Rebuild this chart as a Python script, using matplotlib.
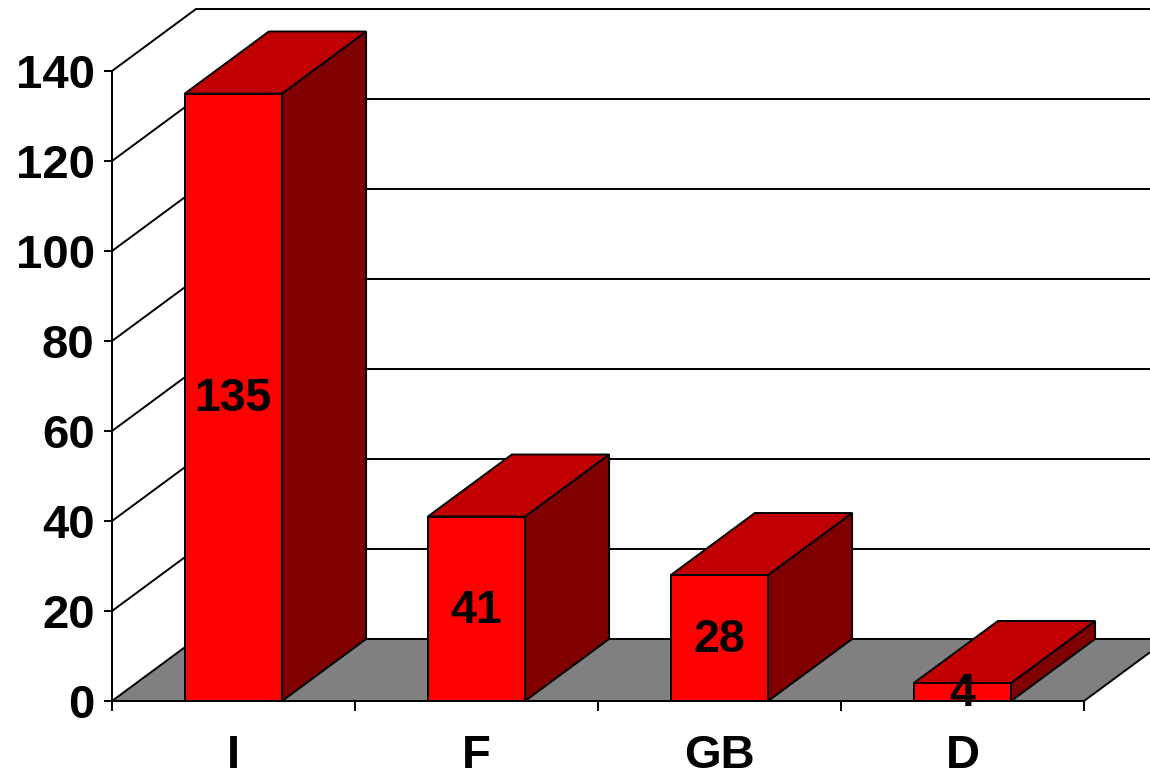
import matplotlib
matplotlib.use("Agg")
import matplotlib.pyplot as plt
from matplotlib.patches import Polygon, Rectangle

plt.rcParams['font.family'] = ['Liberation Sans', 'DejaVu Sans']

categories = ['I', 'F', 'GB', 'D']
values = [135, 41, 28, 4]
y_ticks = [0, 20, 40, 60, 80, 100, 120, 140]

W, H = 1150, 775
LEFT, RIGHT, BOTTOM, TOP = 112, 1084, 701, 71
fig = plt.figure(figsize=(W / 100, H / 100), dpi=100, facecolor='white')
ax = fig.add_axes([LEFT / W, 1 - BOTTOM / H, (RIGHT - LEFT) / W, (BOTTOM - TOP) / H])
ax.set_xlim(0, len(categories))
ax.set_ylim(0, 140)

DX = 84 / ((RIGHT - LEFT) / len(categories))   # depth in category units
DY = 62 / ((BOTTOM - TOP) / 140)               # depth in value units
BAR_W = 0.4
LW = 1.4
EDGE = 'black'

# floor
ax.add_patch(Polygon([(0, 0), (DX, DY), (4 + DX, DY), (4, 0)], closed=True,
                     facecolor='#808080', edgecolor=EDGE, lw=LW, clip_on=False, zorder=1))
# walls and gridlines
for v in y_ticks:
    if v > 0:
        ax.plot([0, DX, 4 + DX], [v, v + DY, v + DY], color=EDGE, lw=LW,
                clip_on=False, zorder=1.5, solid_joinstyle='miter')

# 3-D bars
for i, (name, v) in enumerate(zip(categories, values)):
    x0 = i + 0.5 - BAR_W / 2
    x1 = x0 + BAR_W
    ax.add_patch(Polygon([(x1, 0), (x1 + DX, DY), (x1 + DX, v + DY), (x1, v)], closed=True,
                         facecolor='#800000', edgecolor=EDGE, lw=LW, clip_on=False, zorder=3,
                         joinstyle='miter'))
    ax.add_patch(Polygon([(x0, v), (x0 + DX, v + DY), (x1 + DX, v + DY), (x1, v)], closed=True,
                         facecolor='#C00000', edgecolor=EDGE, lw=LW, clip_on=False, zorder=3,
                         joinstyle='miter'))
    ax.add_patch(Rectangle((x0, 0), BAR_W, v, facecolor='#FF0000', edgecolor=EDGE, lw=LW,
                           clip_on=False, zorder=3, joinstyle='miter'))
    ax.annotate(str(v), (i + 0.5, v / 2), xytext=(-0.5, -1.5), textcoords='offset points',
                ha='center', va='center', fontsize=33.5, fontweight='bold', color='black',
                zorder=5, annotation_clip=False)

# axes furniture
for s in ('top', 'right'):
    ax.spines[s].set_visible(False)
for s in ('left', 'bottom'):
    ax.spines[s].set_linewidth(LW)
    ax.spines[s].set_zorder(4)
ax.patch.set_alpha(0)
ax.set_yticks(y_ticks)
ax.set_yticklabels([str(v) for v in y_ticks], fontsize=34, fontweight='bold')
ax.set_xticks(range(len(categories) + 1))
ax.set_xticklabels([''] * (len(categories) + 1))
ax.set_xticks([i + 0.5 for i in range(len(categories))], minor=True)
ax.set_xticklabels(categories, minor=True, fontsize=34, fontweight='bold')
ax.tick_params(axis='y', length=5.5, width=LW, pad=7)
ax.tick_params(axis='x', which='major', length=7, width=LW)
ax.tick_params(axis='x', which='minor', length=0, pad=24)

fig.savefig('out.png', dpi=100, facecolor='white')
